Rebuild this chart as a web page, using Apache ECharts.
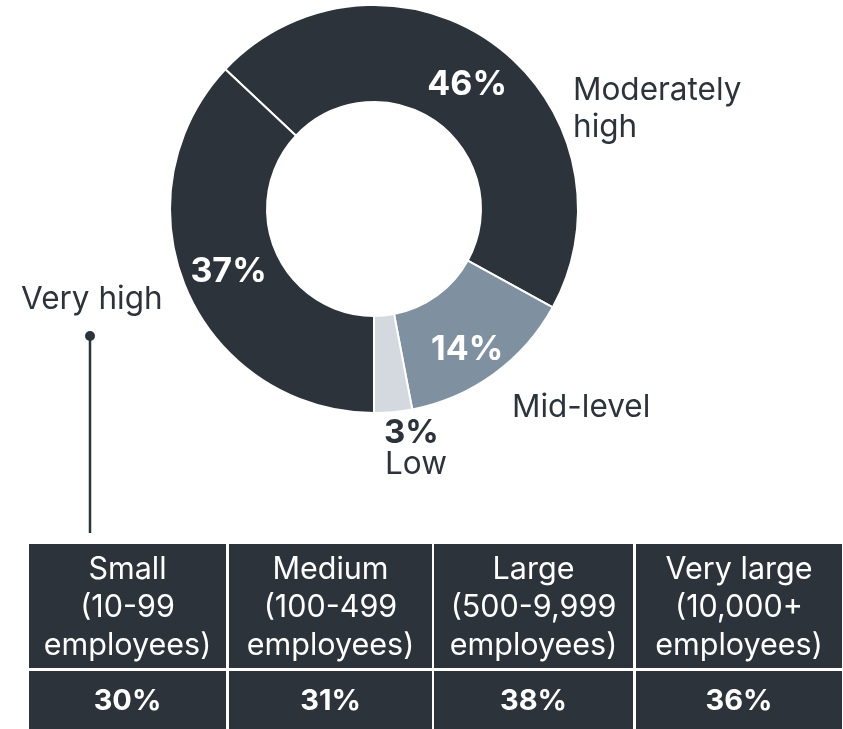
<!DOCTYPE html>
<html>
<head>
<meta charset="utf-8">
<style>
html,body{margin:0;padding:0;background:#ffffff;}
#chart{width:843px;height:729px;}
</style>
<script src="https://cdn.jsdelivr.net/npm/echarts@6/dist/echarts.min.js"></script>
</head>
<body>
<div id="chart"></div>
<script>
// Donut data (clockwise from upper-left)
var levels = ['Moderately high', 'Mid-level', 'Low', 'Very high'];
var levelLabels = ['Moderately\nhigh', 'Mid-level', 'Low', 'Very high'];
var shares = [46, 14, 3, 37];
var levelColors = ['#2d333b', '#7f91a1', '#d4d9e0', '#2d333b'];

// Table data
var sizeNames = ['Small\n(10-99\nemployees)', 'Medium\n(100-499\nemployees)', 'Large\n(500-9,999\nemployees)', 'Very large\n(10,000+\nemployees)'];
var sizeValues = [30, 31, 38, 36];

var FONT = 'Inter, "Noto Sans", sans-serif';
var DARK = '#2d333b';

var chart = echarts.init(document.getElementById('chart'));

var pieData = levels.map(function (n, i) {
  var d = { name: n, value: shares[i], itemStyle: { color: levelColors[i] } };
  if (n === 'Moderately high') d.label = { offset: [0, 4] };
  if (n === 'Mid-level') d.label = { offset: [0, 13] };
  if (n === 'Low') d.label = { show: false };
  return d;
});

// Table graphics
var colX = [29, 229, 434, 636];
var colW = [197, 203, 199, 206];
var graphics = [];
for (var i = 0; i < sizeNames.length; i++) {
  graphics.push({
    type: 'rect', shape: { x: colX[i], y: 544, width: colW[i], height: 124 },
    style: { fill: DARK }, silent: true
  });
  graphics.push({
    type: 'rect', shape: { x: colX[i], y: 671, width: colW[i], height: 62 },
    style: { fill: DARK }, silent: true
  });
  graphics.push({
    type: 'text', x: colX[i] + colW[i] / 2, y: 608,
    style: { text: sizeNames[i], fill: '#ffffff', font: '400 30.5px ' + FONT, lineHeight: 38, align: 'center', verticalAlign: 'middle' },
    silent: true
  });
  graphics.push({
    type: 'text', x: colX[i] + colW[i] / 2, y: 701,
    style: { text: sizeValues[i] + '%', fill: '#ffffff', font: '700 29px ' + FONT, align: 'center', verticalAlign: 'middle' },
    silent: true
  });
}
// Outside category labels
var LBL = '400 31.5px ' + FONT;
graphics.push({ type: 'text', x: 573, y: 109, style: { text: levelLabels[0], fill: DARK, font: LBL, lineHeight: 37, align: 'left', verticalAlign: 'middle' }, silent: true });
graphics.push({ type: 'text', x: 512, y: 408, style: { text: levelLabels[1], fill: DARK, font: LBL, align: 'left', verticalAlign: 'middle' }, silent: true });
graphics.push({ type: 'text', x: 384, y: 433, style: { text: shares[2] + '%', fill: DARK, font: '700 33px ' + FONT, align: 'left', verticalAlign: 'middle' }, silent: true });
graphics.push({ type: 'text', x: 385, y: 465, style: { text: levelLabels[2], fill: DARK, font: LBL, align: 'left', verticalAlign: 'middle' }, silent: true });
graphics.push({ type: 'text', x: 21, y: 300, style: { text: levelLabels[3], fill: DARK, font: LBL, align: 'left', verticalAlign: 'middle' }, silent: true });
// Annotation connector
graphics.push({ type: 'line', shape: { x1: 90, y1: 336, x2: 90, y2: 533 }, style: { stroke: DARK, lineWidth: 2.5 }, silent: true });
graphics.push({ type: 'circle', shape: { cx: 90, cy: 336, r: 5 }, style: { fill: DARK }, silent: true });

chart.setOption({
  backgroundColor: '#ffffff',
  animation: false,
  graphic: graphics,
  series: [{
    type: 'pie',
    center: [374, 209],
    radius: [107, 204],
    startAngle: 136.8,
    clockwise: true,
    avoidLabelOverlap: false,
    itemStyle: { borderColor: '#ffffff', borderWidth: 2 },
    label: {
      show: true, position: 'inside', formatter: '{c}%',
      color: '#ffffff', fontFamily: FONT, fontWeight: 700, fontSize: 34
    },
    labelLine: { show: false },
    emphasis: { disabled: true },
    data: pieData
  }]
});
</script>
</body>
</html>
